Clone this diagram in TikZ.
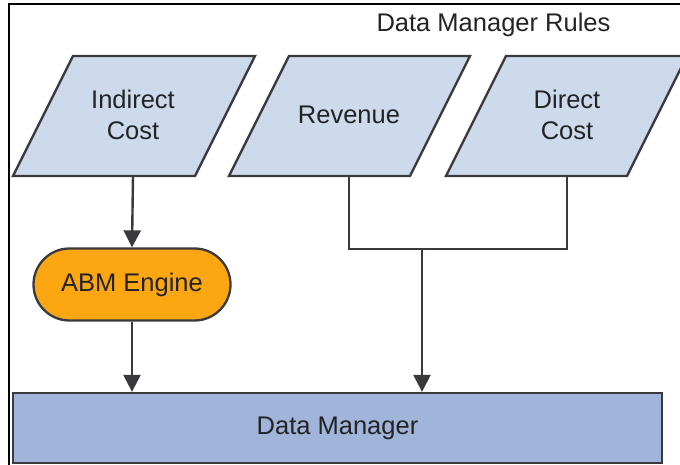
\documentclass[tikz,border=0pt]{standalone}
\usepackage{fontspec}
\setmainfont{Liberation Sans}
\usetikzlibrary{arrows.meta,shapes.misc}
\definecolor{parafill}{RGB}{205,218,236}
\definecolor{abmfill}{RGB}{252,166,18}
\definecolor{dmfill}{RGB}{161,181,218}
\definecolor{edgegray}{RGB}{58,58,62}
\definecolor{txtgray}{RGB}{35,35,35}
\tikzset{
  shapeline/.style={draw=edgegray, line width=2.3pt, line join=miter},
  lbl/.style={text=txtgray, inner sep=0pt, align=center},
  paralabel/.style={lbl, minimum width=180pt, minimum height=120pt},
  wire/.style={draw=edgegray, line width=2.4pt},
  flow/.style={wire, -{Triangle[length=17pt,width=17pt]}},
}
\begin{document}
\begin{tikzpicture}[x=1pt,y=-1pt,font=\fontsize{25.5}{31}\selectfont]
\useasboundingbox (0,0) rectangle (680,465);
\clip (0,0) rectangle (680,465);
% outer frame
\draw[line width=1.3pt, black] (9,4) rectangle (700,490);
% title
\node[lbl, anchor=base] (title) at (493.5,31.7) {Data Manager Rules};
% parallelograms
\draw[shapeline, fill=parafill] (13,176) -- (73,56) -- (255,56) -- (195,176) -- cycle;
\draw[shapeline, fill=parafill] (229,176) -- (289,56) -- (470,56) -- (410,176) -- cycle;
\draw[shapeline, fill=parafill] (446,176) -- (506,56) -- (687,56) -- (627,176) -- cycle;
\node[paralabel] (ic) at (133,114.5) {Indirect\\Cost};
\node[paralabel] (rev) at (349,115) {Revenue};
\node[paralabel] (dc) at (567,114.5) {Direct\\Cost};
% ABM engine
\node[shapeline, rounded rectangle, fill=abmfill, lbl, minimum width=197pt, minimum height=72pt] (abm) at (132,284.5) {ABM Engine};
% Data Manager
\node[shapeline, fill=dmfill, lbl, minimum width=649pt, minimum height=70pt] (dm) at (337.5,428) {Data Manager};
% connectors
\coordinate (jn) at (422,249);
\draw[flow] (ic.south |- 0,176) -- (abm.north);
\draw[flow] (abm.south) -- (abm.south |- dm.north);
\draw[wire, line join=miter] (rev.south |- 0,176) |- (jn) -| (dc.south |- 0,176);
\draw[flow] (jn) -- (jn |- dm.north);
\end{tikzpicture}
\end{document}
